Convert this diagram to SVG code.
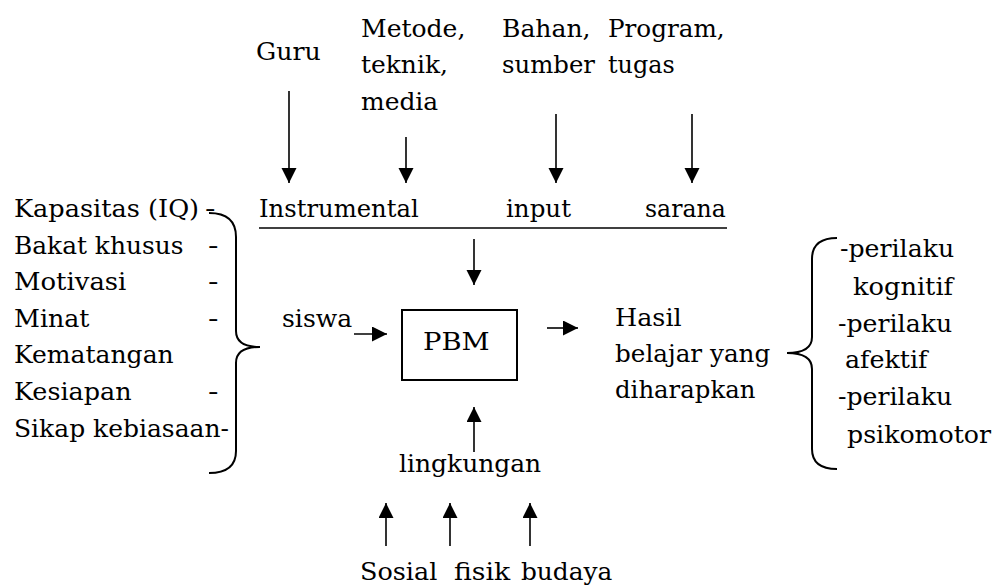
<svg xmlns="http://www.w3.org/2000/svg" width="1002" height="587" viewBox="0 0 1002 587">
<style>
text{font-family:'DejaVu Serif',serif;font-size:25px;fill:#000}
.ln{stroke:#000;stroke-width:1.6;fill:none}
.br{stroke:#000;stroke-width:2;fill:none}
.box{stroke:#000;stroke-width:2;fill:#fff}
</style>
<defs>
<marker id="ah" markerUnits="userSpaceOnUse" markerWidth="16" markerHeight="16" refX="15" refY="7.5" orient="auto">
<path d="M0,0 L15,7.5 L0,15 Z" fill="#000"/>
</marker>
</defs>
<rect width="1002" height="587" fill="#fff"/>
<g id="connectors">
<line class="ln" x1="289" y1="91" x2="289" y2="183" marker-end="url(#ah)"/>
<line class="ln" x1="406" y1="137" x2="406" y2="183" marker-end="url(#ah)"/>
<line class="ln" x1="556" y1="114" x2="556" y2="183" marker-end="url(#ah)"/>
<line class="ln" x1="692" y1="114" x2="692" y2="183" marker-end="url(#ah)"/>
<line class="ln" x1="474" y1="239" x2="474" y2="285" marker-end="url(#ah)"/>
<line class="ln" x1="354" y1="334" x2="387" y2="334" marker-end="url(#ah)"/>
<line class="ln" x1="547" y1="328" x2="578" y2="328" marker-end="url(#ah)"/>
<line class="ln" x1="474" y1="452" x2="474" y2="407" marker-end="url(#ah)"/>
<line class="ln" x1="386" y1="546" x2="386" y2="503" marker-end="url(#ah)"/>
<line class="ln" x1="450" y1="546" x2="450" y2="503" marker-end="url(#ah)"/>
<line class="ln" x1="530" y1="546" x2="530" y2="503" marker-end="url(#ah)"/>
<line class="ln" x1="259" y1="228" x2="727" y2="228"/>
<path class="br" d="M 209 213 Q 236 213 236 237 L 236 331 Q 236 347 260 347 Q 236 347 236 363 L 236 451 Q 236 473 209 473"/>
<path class="br" d="M 837 238 Q 812 238 812 259 L 812 337 Q 812 353 787 353 Q 812 353 812 369 L 812 449 Q 812 469 837 469"/>
</g>
<g id="pbm">
<rect class="box" x="402" y="310" width="115" height="70"/>
<text x="423" y="350" textLength="66.7" lengthAdjust="spacingAndGlyphs">PBM</text>
</g>
<g id="guru"><text x="256" y="60" textLength="64.9" lengthAdjust="spacingAndGlyphs">Guru</text></g>
<g id="metode">
<text x="361" y="37" textLength="104.4" lengthAdjust="spacingAndGlyphs">Metode,</text>
<text x="361" y="73" textLength="86.9" lengthAdjust="spacingAndGlyphs">teknik,</text>
<text x="361" y="110" textLength="77.2" lengthAdjust="spacingAndGlyphs">media</text>
</g>
<g id="bahan">
<text x="502" y="37" textLength="88.6" lengthAdjust="spacingAndGlyphs">Bahan,</text>
<text x="502" y="73" textLength="93" lengthAdjust="spacingAndGlyphs">sumber</text>
</g>
<g id="program">
<text x="608" y="37" textLength="116.7" lengthAdjust="spacingAndGlyphs">Program,</text>
<text x="608" y="73" textLength="66.7" lengthAdjust="spacingAndGlyphs">tugas</text>
</g>
<g id="instrumental">
<text x="259" y="217" textLength="159.7" lengthAdjust="spacingAndGlyphs">Instrumental</text>
<text x="506" y="217" textLength="65" lengthAdjust="spacingAndGlyphs">input</text>
<text x="645" y="217" textLength="80.7" lengthAdjust="spacingAndGlyphs">sarana</text>
</g>
<g id="siswa-list">
<text x="14" y="217" textLength="185.1" lengthAdjust="spacingAndGlyphs">Kapasitas (IQ)</text>
<text x="205" y="217" textLength="10.5" lengthAdjust="spacingAndGlyphs">-</text>
<text x="14" y="254" textLength="169.4" lengthAdjust="spacingAndGlyphs">Bakat khusus</text>
<text x="208" y="254" textLength="10.5" lengthAdjust="spacingAndGlyphs">-</text>
<text x="14" y="290" textLength="112.4" lengthAdjust="spacingAndGlyphs">Motivasi</text>
<text x="208" y="290" textLength="10.5" lengthAdjust="spacingAndGlyphs">-</text>
<text x="14" y="327" textLength="75.5" lengthAdjust="spacingAndGlyphs">Minat</text>
<text x="208" y="327" textLength="10.5" lengthAdjust="spacingAndGlyphs">-</text>
<text x="14" y="363" textLength="159.7" lengthAdjust="spacingAndGlyphs">Kematangan</text>
<text x="14" y="400" textLength="117.6" lengthAdjust="spacingAndGlyphs">Kesiapan</text>
<text x="208" y="400" textLength="10.5" lengthAdjust="spacingAndGlyphs">-</text>
<text x="14" y="437" textLength="215" lengthAdjust="spacingAndGlyphs">Sikap kebiasaan-</text>
</g>
<g id="siswa"><text x="282" y="327" textLength="70.2" lengthAdjust="spacingAndGlyphs">siswa</text></g>
<g id="hasil">
<text x="615" y="326" textLength="66.7" lengthAdjust="spacingAndGlyphs">Hasil</text>
<text x="615" y="362" textLength="155.3" lengthAdjust="spacingAndGlyphs">belajar yang</text>
<text x="615" y="398" textLength="140.4" lengthAdjust="spacingAndGlyphs">diharapkan</text>
</g>
<g id="lingkungan"><text x="399" y="472" textLength="142.2" lengthAdjust="spacingAndGlyphs">lingkungan</text></g>
<g id="sosial">
<text x="360" y="580" textLength="77.3" lengthAdjust="spacingAndGlyphs">Sosial</text>
<text x="454" y="580" textLength="56.2" lengthAdjust="spacingAndGlyphs">fisik</text>
<text x="521" y="580" textLength="91.3" lengthAdjust="spacingAndGlyphs">budaya</text>
</g>
<g id="perilaku">
<text x="840" y="257" textLength="114.1" lengthAdjust="spacingAndGlyphs">-perilaku</text>
<text x="853" y="295" textLength="100.1" lengthAdjust="spacingAndGlyphs">kognitif</text>
<text x="838" y="332" textLength="114.1" lengthAdjust="spacingAndGlyphs">-perilaku</text>
<text x="845" y="368" textLength="82.5" lengthAdjust="spacingAndGlyphs">afektif</text>
<text x="838" y="405" textLength="114.1" lengthAdjust="spacingAndGlyphs">-perilaku</text>
<text x="847" y="443" textLength="144" lengthAdjust="spacingAndGlyphs">psikomotor</text>
</g>
</svg>
